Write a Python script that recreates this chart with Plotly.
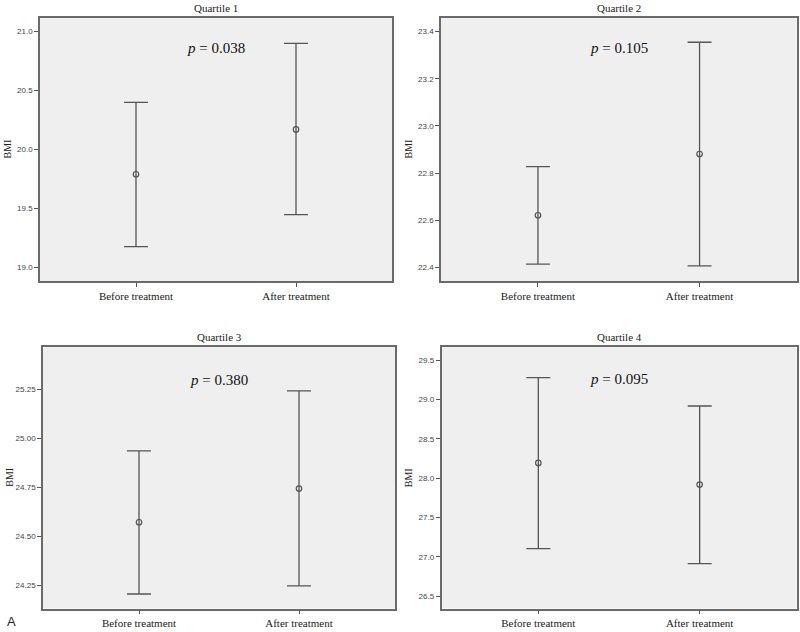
import plotly.graph_objects as go

categories = ["Before treatment", "After treatment"]
titles = ["Quartile 1", "Quartile 2", "Quartile 3", "Quartile 4"]
p_labels = ["0.038", "0.105", "0.380", "0.095"]

q1_mean = [19.79, 20.17]
q1_upper = [20.40, 20.90]
q1_lower = [19.175, 19.447]

q2_mean = [22.621, 22.881]
q2_upper = [22.827, 23.355]
q2_lower = [22.414, 22.406]

q3_mean = [24.573, 24.745]
q3_upper = [24.937, 25.243]
q3_lower = [24.207, 24.248]

q4_mean = [28.195, 27.92]
q4_upper = [29.28, 28.919]
q4_lower = [27.106, 26.915]

y_ranges = [[18.884, 21.116], [22.342, 23.458], [24.133, 25.467], [26.344, 29.669]]
y_dticks = [0.5, 0.2, 0.25, 0.5]
y_tick0 = [19.0, 22.4, 24.25, 26.5]
y_formats = [".1f", ".1f", ".2f", ".1f"]
p_ypos = [20.86, 23.33, 25.30, 29.26]

means = [q1_mean, q2_mean, q3_mean, q4_mean]
uppers = [q1_upper, q2_upper, q3_upper, q4_upper]
lowers = [q1_lower, q2_lower, q3_lower, q4_lower]

W, H = 800, 632
# panel boxes in pixels: (left, right, top, bottom)
boxes = [(40, 392, 18, 281), (441, 796.5, 18, 281),
         (43, 395, 347, 608.5), (441.5, 796.5, 347, 608.5)]

SERIF = "Liberation Serif, Times New Roman, serif"
SANS = "Liberation Sans, Arial, sans-serif"
LC = "#555555"

fig = go.Figure()
layout = dict(width=W, height=H, autosize=False,
              margin=dict(l=0, r=0, t=0, b=0),
              paper_bgcolor="white", plot_bgcolor="#efefef",
              showlegend=False, annotations=[])

for i in range(4):
    L, R, T, B = boxes[i]
    xa = "xaxis" if i == 0 else f"xaxis{i+1}"
    ya = "yaxis" if i == 0 else f"yaxis{i+1}"
    xr = "x" if i == 0 else f"x{i+1}"
    yr = "y" if i == 0 else f"y{i+1}"
    m, u, lo = means[i], uppers[i], lowers[i]
    fig.add_trace(go.Scatter(
        x=[0, 1], y=m, xaxis=xr, yaxis=yr, mode="markers",
        marker=dict(symbol="circle-open", size=5.5, color=LC, line=dict(width=1.2, color=LC)),
        error_y=dict(type="data", symmetric=False,
                     array=[u[k] - m[k] for k in range(2)],
                     arrayminus=[m[k] - lo[k] for k in range(2)],
                     color=LC, thickness=1.3, width=12),
    ))
    layout[xa] = dict(domain=[L / W, R / W], anchor=yr, range=[-0.6, 1.6],
                      tickmode="array", tickvals=[0, 1], ticktext=categories,
                      showgrid=False, zeroline=False, showline=True, mirror=True,
                      linecolor="#6a6a6a", linewidth=1.5,
                      ticks="outside", ticklen=4, tickcolor="#555555",
                      tickfont=dict(family=SERIF, size=11, color="#222222"))
    layout[ya] = dict(domain=[1 - B / H, 1 - T / H], anchor=xr, range=y_ranges[i],
                      tick0=y_tick0[i], dtick=y_dticks[i], tickformat=y_formats[i],
                      showgrid=False, zeroline=False, showline=True, mirror=True,
                      linecolor="#6a6a6a", linewidth=1.5,
                      ticks="outside", ticklen=4, tickcolor="#555555",
                      tickfont=dict(family=SANS, size=8, color="#444444"))
    layout["annotations"].append(dict(
        x=(L + R) / 2 / W, y=1 - (T - 10) / H, xref="paper", yref="paper",
        text=titles[i], showarrow=False, xanchor="center", yanchor="middle",
        font=dict(family=SERIF, size=11, color="#222222")))
    layout["annotations"].append(dict(
        x=(L - 33) / W, y=1 - (T + B) / 2 / H, xref="paper", yref="paper",
        text="BMI", textangle=-90, showarrow=False, xanchor="center", yanchor="middle",
        font=dict(family=SERIF, size=10, color="#222222")))
    layout["annotations"].append(dict(
        x=0.5, y=p_ypos[i], xref=xr, yref=yr,
        text=f"<i>p</i> = {p_labels[i]}", showarrow=False,
        xanchor="center", yanchor="middle",
        font=dict(family=SERIF, size=15, color="#111111")))

layout["annotations"].append(dict(
    x=11 / W, y=1 - 621 / H, xref="paper", yref="paper", text="A",
    showarrow=False, xanchor="center", yanchor="middle",
    font=dict(family=SANS, size=13, color="#222222")))

fig.update_layout(**layout)
fig.write_html("out.html", config={"displayModeBar": False},
               post_script="document.body.style.margin='0px';document.body.style.overflow='hidden';")
